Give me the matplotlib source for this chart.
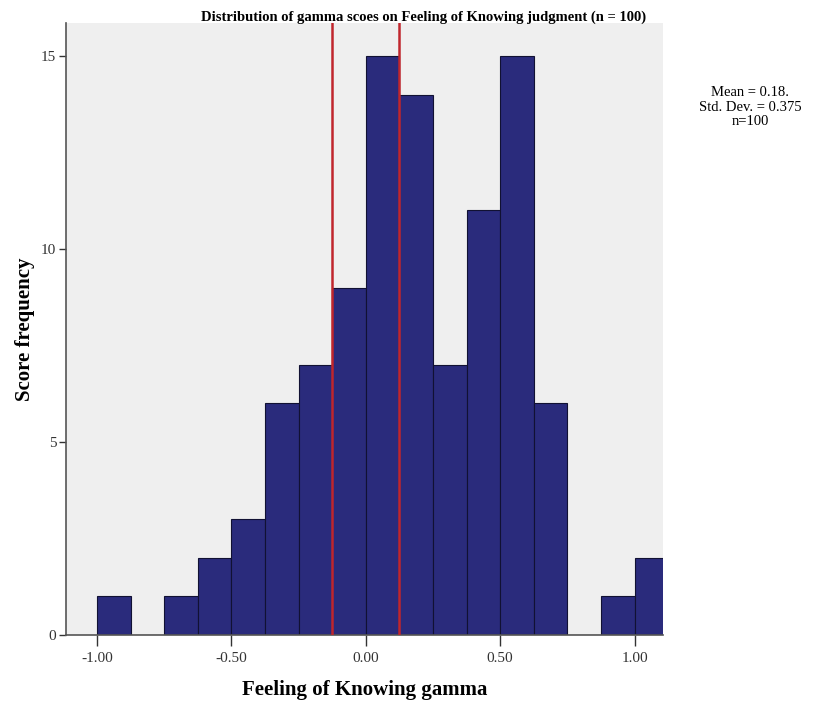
import matplotlib.pyplot as plt
import numpy as np

# histogram bins (width 0.125) and counts
bin_edges = [-1.0, -0.875, -0.75, -0.625, -0.5, -0.375, -0.25, -0.125, 0.0,
             0.125, 0.25, 0.375, 0.5, 0.625, 0.75, 0.875, 1.0, 1.125]
counts = [1, 0, 1, 2, 3, 6, 7, 9, 15, 14, 7, 11, 15, 6, 0, 1, 2]
ref_lines = [-0.125, 0.125]
x_ticks = [-1.0, -0.5, 0.0, 0.5, 1.0]
y_ticks = [0, 5, 10, 15]
stats_text = "Mean = 0.18.\nStd. Dev. = 0.375\nn=100"

plt.rcParams['font.family'] = ['Liberation Serif', 'DejaVu Serif']

fig = plt.figure(figsize=(8.29, 7.02), dpi=100)
ax = fig.add_axes([0.0796, 0.0954, 0.7202, 0.8716])
ax.set_facecolor('#efefef')

lefts = np.array(bin_edges[:-1])
widths = np.diff(bin_edges)
ax.bar(lefts, counts, width=widths, align='edge', color='#2a2b7c',
       edgecolor='#111133', linewidth=0.8, zorder=2)

for x in ref_lines:
    ax.axvline(x, color='#c0262d', linewidth=1.8, zorder=3)

ax.set_xlim(-1.115, 1.106)
ax.set_ylim(0, 15.85)
ax.set_xticks(x_ticks)
ax.set_xticklabels([f"{t:.2f}" for t in x_ticks])
ax.set_yticks(y_ticks)
ax.tick_params(axis='x', direction='out', length=8, width=1, colors='#333333',
               labelsize=11, pad=4)
ax.tick_params(axis='y', direction='out', length=5, width=1, colors='#333333',
               labelsize=11, pad=2)

for side in ['top', 'right']:
    ax.spines[side].set_visible(False)
for side in ['left', 'bottom']:
    ax.spines[side].set_color('#555555')
    ax.spines[side].set_linewidth(1.2)

ax.set_xlabel("Feeling of Knowing gamma", fontsize=15, fontweight='bold', labelpad=11)
ax.set_ylabel("Score frequency", fontsize=15, fontweight='bold', labelpad=4.5)
fig.text(0.511, 0.975, "Distribution of gamma scoes on Feeling of Knowing judgment (n = 100)",
         ha='center', va='center', fontsize=10.5, fontweight='bold')

fig.text(0.905, 0.847, stats_text, ha='center', va='center', fontsize=10.5,
         linespacing=1.15)

fig.savefig("out.png", dpi=100)
